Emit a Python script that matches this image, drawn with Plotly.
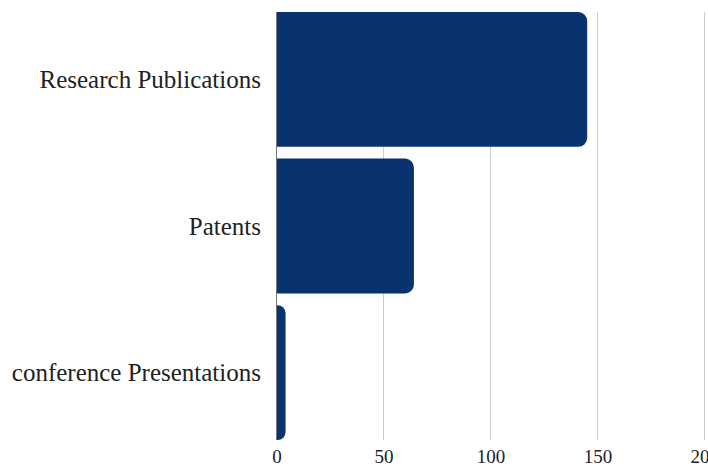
import plotly.graph_objects as go

categories = ["Research Publications", "Patents", "conference Presentations"]
values = [145, 64, 4]
tick_vals = [0, 50, 100, 150, 200]

bar_color = "#08336f"

fig = go.Figure(
    go.Bar(
        x=values,
        y=categories,
        orientation="h",
        marker=dict(color=bar_color, line=dict(width=0)),
        hoverinfo="x+y",
    )
)

fig.update_layout(
    width=708,
    height=468,
    margin=dict(l=277, r=1, t=12, b=28),
    plot_bgcolor="white",
    paper_bgcolor="white",
    bargap=0.08,
    barcornerradius=9,
    showlegend=False,
    font=dict(family="Liberation Serif, DejaVu Serif, serif", color="#222222"),
)

fig.update_xaxes(
    range=[0, 201],
    tickvals=tick_vals,
    showgrid=True,
    gridcolor="#cccccc",
    gridwidth=1,
    zeroline=False,
    showline=False,
    tickfont=dict(size=19),
    ticks="",
    ticklabelstandoff=3,
    ticklabeloverflow="allow",
    automargin=False,
)

fig.update_yaxes(
    range=[2.46, -0.46],
    showgrid=False,
    showline=True,
    linecolor="#777777",
    linewidth=1,
    tickfont=dict(size=25),
    ticks="",
    ticklabelstandoff=10,
    automargin=False,
)

# drop the default 8px page margin so the figure fills the window exactly
fig.write_html(
    "out.html",
    config={"displayModeBar": False},
    post_script="document.body.style.margin = '0px';",
)
